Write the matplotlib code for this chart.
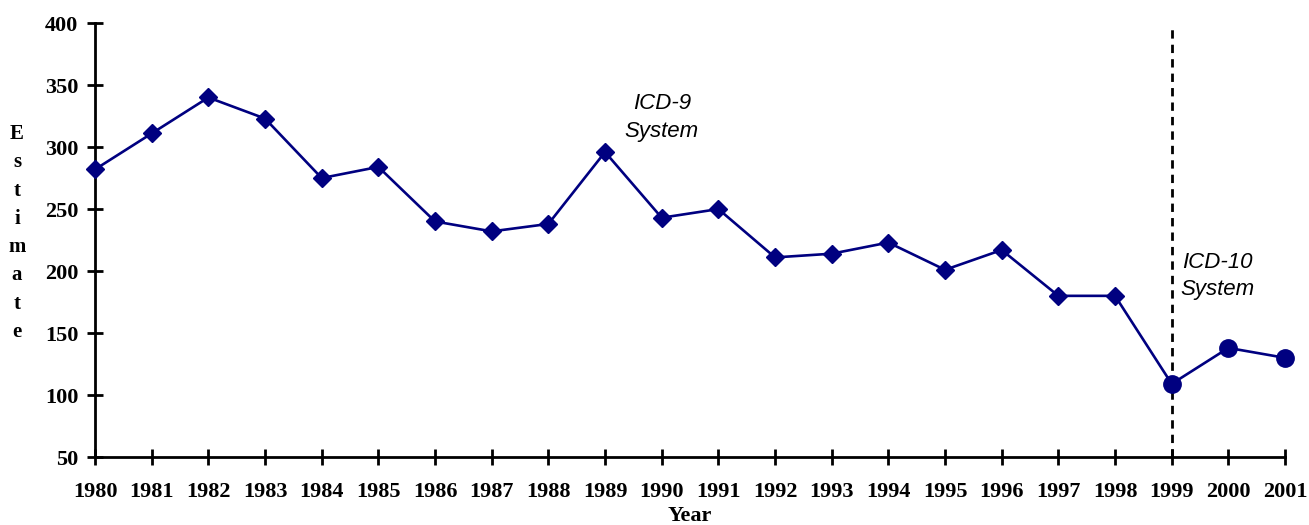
import matplotlib
matplotlib.use("Agg")
import matplotlib.pyplot as plt

years = list(range(1980, 2002))
estimate = [282, 311, 340, 323, 275, 284, 240, 232, 238, 296, 243, 250,
            211, 214, 223, 201, 217, 180, 180, 109, 138, 130]
# ICD-9 years use diamonds, ICD-10 years (from 1999) use circles
icd10_start = 1999

navy = "#000080"
serif = "Liberation Serif"

fig = plt.figure(figsize=(13.09, 5.25), dpi=100)
ax = fig.add_axes([0.0726, 0.1295, 0.9091, 0.8265])

ax.plot(years, estimate, color=navy, lw=1.9, zorder=3, clip_on=False)
n9 = years.index(icd10_start)
ax.plot(years[:n9], estimate[:n9], ls="none", marker="D", ms=9.5,
        color=navy, zorder=4, clip_on=False)
ax.plot(years[n9:], estimate[n9:], ls="none", marker="o", ms=12.5,
        color=navy, zorder=4, clip_on=False)

ax.plot([icd10_start, icd10_start], [50, 398], color="black",
        ls=(0, (3, 2.2)), lw=2, zorder=2, clip_on=False)

ax.text(1990.0, 324, "ICD-9\nSystem", ha="center", va="center",
        style="italic", fontsize=16, family="Liberation Sans",
        linespacing=1.4)
ax.text(1999.8, 196, "ICD-10\nSystem", ha="center", va="center",
        style="italic", fontsize=16, family="Liberation Sans",
        linespacing=1.4)

ax.set_xlim(1980, 2001)
ax.set_ylim(50, 400)
ax.set_xticks(years)
ax.set_yticks(range(50, 401, 50))
for s in ["top", "right"]:
    ax.spines[s].set_visible(False)
for s in ["left", "bottom"]:
    ax.spines[s].set_linewidth(2)
ax.tick_params(direction="inout", length=12, width=2, labelsize=16, pad=6)
for lab in ax.get_xticklabels() + ax.get_yticklabels():
    lab.set_fontfamily(serif)
    lab.set_fontweight("bold")
ax.tick_params(axis="x", pad=12)

fig.text(0.527, -0.002, "Year", ha="center", va="bottom", family=serif,
         fontweight="bold", fontsize=16)
fig.text(0.013, 0.556, "\n".join("Estimate"), ha="center", va="center",
         family=serif, fontweight="bold", fontsize=15, linespacing=1.55)

fig.savefig("out.png", dpi=100)
